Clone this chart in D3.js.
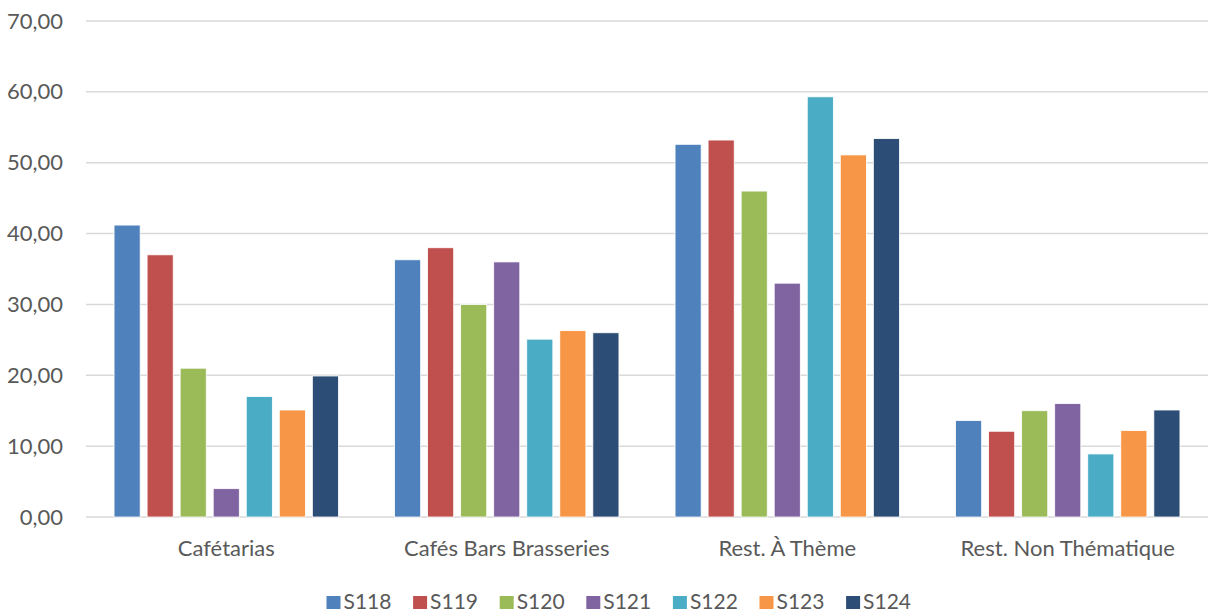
<!DOCTYPE html>
<html><head><meta charset="utf-8">
<script src="https://cdn.jsdelivr.net/npm/d3@7/dist/d3.min.js"></script>
<style>body{margin:0;background:#fff}svg{display:block}text{font-family:Lato,"Open Sans",sans-serif;fill:#595959}</style>
</head><body><svg id="c" width="1210" height="613"></svg>
<script>
const categories = ["Cafétarias", "Cafés Bars Brasseries", "Rest. À Thème", "Rest. Non Thématique"];
const seriesNames = ["S118", "S119", "S120", "S121", "S122", "S123", "S124"];
const S118 = [41.2, 36.3, 52.6, 13.6];
const S119 = [37.0, 38.0, 53.2, 12.1];
const S120 = [21.0, 30.0, 46.0, 15.0];
const S121 = [4.0, 36.0, 33.0, 16.0];
const S122 = [17.0, 25.1, 59.3, 8.9];
const S123 = [15.1, 26.3, 51.1, 12.2];
const S124 = [19.9, 26.0, 53.4, 15.1];
const yTicks = [0, 10, 20, 30, 40, 50, 60, 70];
const colors = ["#4F81BD", "#C0504D", "#9BBB59", "#8064A2", "#4BACC6", "#F79646", "#2C4D75"];

const seriesValues = [S118, S119, S120, S121, S122, S123, S124];
const svg = d3.select("#c");
const pL = 86, pR = 1208, pT = 21, pB = 517;

const x = d3.scaleBand().domain(categories).range([pL, pR]).padding(0);
const y = d3.scaleLinear().domain([0, 70]).range([pB, pT]);
const bw = x.bandwidth();
const xs = d3.scaleBand().domain(seriesNames).range([bw * 0.1, bw * 0.9]).paddingInner(0.21).paddingOuter(0.0);

const fmt = v => d3.format(".2f")(v).replace(".", ",");

// gridlines
svg.append("g").selectAll("line").data(yTicks).join("line")
  .attr("x1", pL).attr("x2", pR)
  .attr("y1", d => y(d)).attr("y2", d => y(d))
  .attr("stroke", "#d9d9d9").attr("stroke-width", 1.5);

// y labels
const yAxis = d3.axisLeft(y).tickValues(yTicks).tickFormat(fmt).tickSize(0).tickPadding(0);
const ga = svg.append("g").attr("transform", `translate(63,0)`).call(yAxis);
ga.select(".domain").remove();
ga.selectAll("text").attr("font-size", 22).attr("fill", "#595959").style("font-family", "Lato, sans-serif");

// bars
const groups = svg.append("g").selectAll("g").data(categories).join("g")
  .attr("transform", d => `translate(${x(d)},0)`);
groups.selectAll("rect").data((c, ci) => seriesNames.map((s, si) => ({s, si, v: seriesValues[si][ci]})))
  .join("rect")
  .attr("x", d => xs(d.s)).attr("width", xs.bandwidth())
  .attr("y", d => y(d.v)).attr("height", d => y(0) - y(d.v))
  .attr("fill", d => colors[d.si]).attr("stroke", "#fff").attr("stroke-width", 0.8);

// x labels
const xAxis = d3.axisBottom(x).tickSize(0).tickPadding(0);
const gx = svg.append("g").attr("transform", `translate(0,${pB})`).call(xAxis);
gx.select(".domain").remove();
gx.selectAll("text").attr("dy", null).attr("y", 39).attr("font-size", 22).attr("fill", "#595959").style("font-family", "Lato, sans-serif");

// legend
const lg = svg.append("g").selectAll("g").data(seriesNames).join("g")
  .attr("transform", (d, i) => `translate(${326.5 + i * 86.6},596)`);
lg.append("rect").attr("width", 14).attr("height", 13).attr("fill", (d, i) => colors[i]);
lg.append("text").attr("x", 17).attr("y", 12.7).attr("font-size", 21).text(d => d);
</script></body></html>
